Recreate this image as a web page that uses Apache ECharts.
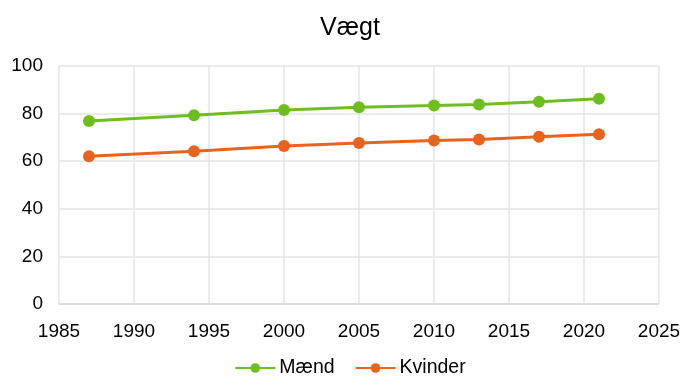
<!DOCTYPE html>
<html><head><meta charset="utf-8">
<script src="https://cdn.jsdelivr.net/npm/echarts@6/dist/echarts.min.js"></script>
<style>html,body{margin:0;padding:0;background:#fff}#c{width:700px;height:392px}</style>
</head><body><div id="c"></div>
<script>
const years = [1987, 1994, 2000, 2005, 2010, 2013, 2017, 2021];
const maend = [76.9, 79.3, 81.5, 82.7, 83.4, 83.8, 85.0, 86.2];
const kvinder = [62.1, 64.2, 66.4, 67.6, 68.7, 69.1, 70.3, 71.3];
const seriesNames = ['Mænd', 'Kvinder'];
const titleText = 'Vægt';

const font = 'Liberation Sans, Arial, sans-serif';
const chart = echarts.init(document.getElementById('c'));
chart.setOption({
  animation: false,
  title: { text: titleText, left: 'center', top: 11, textStyle: { fontFamily: font, fontSize: 25, fontWeight: 'normal', color: '#000' } },
  legend: {
    top: 353, left: 'center', itemGap: 20, itemWidth: 40, itemHeight: 12,
    textStyle: { fontFamily: font, fontSize: 19.5, color: '#000', padding: [0, 0, 0, -1] },
    data: seriesNames
  },
  grid: { left: 59, right: 41, top: 66, bottom: 88 },
  xAxis: {
    type: 'value', min: 1985, max: 2025, interval: 5,
    axisLine: { show: true, lineStyle: { color: '#d9d9d9', width: 1.5 } },
    axisTick: { show: false },
    splitLine: { show: true, lineStyle: { color: '#e4e4e4', width: 1.5 } },
    axisLabel: { fontFamily: font, fontSize: 19, color: '#000', margin: 18, formatter: v => String(v) }
  },
  yAxis: {
    type: 'value', min: 0, max: 100, interval: 20,
    axisLine: { show: false }, axisTick: { show: false },
    splitLine: { show: true, lineStyle: { color: '#e4e4e4', width: 1.5 } },
    axisLabel: { fontFamily: font, fontSize: 19, color: '#000', margin: 16 }
  },
  series: [
    { name: seriesNames[0], type: 'line', data: years.map((y, i) => [y, maend[i]]),
      color: '#6ebe1f', symbol: 'circle', symbolSize: 12, lineStyle: { width: 3 } },
    { name: seriesNames[1], type: 'line', data: years.map((y, i) => [y, kvinder[i]]),
      color: '#e8641e', symbol: 'circle', symbolSize: 12, lineStyle: { width: 3 } }
  ]
});
</script></body></html>
